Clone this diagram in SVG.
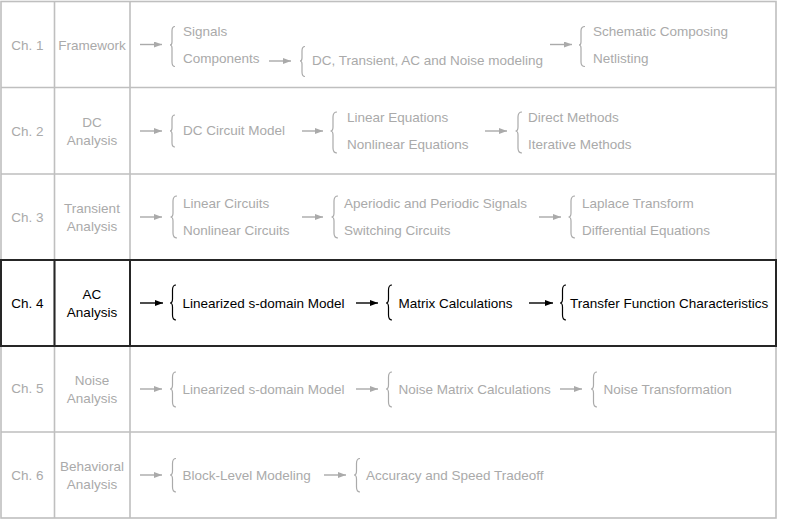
<svg xmlns="http://www.w3.org/2000/svg" width="785" height="525" viewBox="0 0 785 525">
<style>
text{font-family:"Liberation Sans",Arial,sans-serif;font-size:13.5px;fill:#aaaaaa}
.c{text-anchor:middle}
.k text,text.k{fill:#000}
.grid{stroke:#bfbfbf;stroke-width:1.6;fill:none}
.hl{stroke:#262626;stroke-width:2;fill:none}
.br{fill:none;stroke:#aaaaaa;stroke-width:1.2}
.k .br{stroke:#000}
.ar{stroke:#aaaaaa;stroke-width:1.4;marker-end:url(#hg)}
.ark{stroke:#000;stroke-width:1.4;marker-end:url(#hk)}
</style>
<defs>
<marker id="hg" viewBox="0 0 8 6" refX="8" refY="3" markerWidth="8" markerHeight="6" markerUnits="userSpaceOnUse" orient="auto"><path d="M0,0 L8,3 L0,6 z" fill="#aaaaaa"/></marker>
<marker id="hk" viewBox="0 0 8 6" refX="8" refY="3" markerWidth="8" markerHeight="6" markerUnits="userSpaceOnUse" orient="auto"><path d="M0,0 L8,3 L0,6 z" fill="#000"/></marker>
</defs>
<rect width="785" height="525" fill="#fff"/>
<g id="grid">
<rect class="grid" x="1" y="1.5" width="775" height="516.5"/>
<path class="grid" d="M54.5,1.5 V518 M130,1.5 V518 M1,87.5 H776 M1,174 H776 M1,432 H776"/>
<rect class="hl" x="1" y="260" width="775" height="86"/>
<path class="hl" d="M54.5,260 V346 M130,260 V346"/>
</g>
<g id="connectors">
<line class="ar" x1="140" y1="44.5" x2="162" y2="44.5"/>
<line class="ar" x1="269" y1="61" x2="291" y2="61"/>
<line class="ar" x1="550" y1="44.5" x2="572" y2="44.5"/>
<line class="ar" x1="140" y1="131" x2="162" y2="131"/>
<line class="ar" x1="302" y1="131" x2="323" y2="131"/>
<line class="ar" x1="485" y1="131" x2="507" y2="131"/>
<line class="ar" x1="140" y1="217" x2="162" y2="217"/>
<line class="ar" x1="302" y1="217" x2="323" y2="217"/>
<line class="ar" x1="539" y1="217" x2="561" y2="217"/>
<line class="ark" x1="140" y1="303" x2="163" y2="303"/>
<line class="ark" x1="356" y1="303" x2="378" y2="303"/>
<line class="ark" x1="529" y1="303" x2="553" y2="303"/>
<line class="ar" x1="140" y1="389" x2="162" y2="389"/>
<line class="ar" x1="356" y1="389" x2="378" y2="389"/>
<line class="ar" x1="560" y1="389" x2="582" y2="389"/>
<line class="ar" x1="140" y1="475" x2="162" y2="475"/>
<line class="ar" x1="324" y1="475" x2="346" y2="475"/>
</g>
<g id="row1">
<text class="c" x="27.5" y="50">Ch. 1</text>
<text class="c" x="92" y="50">Framework</text>
<path class="br" d="M175,26.5 Q172,26.5 172,31 L172,42 Q172,45 170,45 Q172,45 172,48 L172,62 Q172,66.5 175,66.5"/>
<text x="183" y="36">Signals</text>
<text x="183" y="63">Components</text>
<path class="br" d="M305,46.5 Q302,46.5 302,51 L302,58 Q302,61 300,61 Q302,61 302,64 L302,72 Q302,76.5 305,76.5"/>
<text x="312" y="65">DC, Transient, AC and Noise modeling</text>
<path class="br" d="M585,26.5 Q581,26.5 581,31 L581,42 Q581,45 579,45 Q581,45 581,48 L581,62 Q581,66.5 585,66.5"/>
<text x="593" y="36">Schematic Composing</text>
<text x="593" y="63">Netlisting</text>
</g>
<g id="row2">
<text class="c" x="27.5" y="136">Ch. 2</text>
<text class="c" x="92" y="127">DC</text>
<text class="c" x="92" y="145">Analysis</text>
<path class="br" d="M175,115 Q172,115 172,119 L172,128 Q172,131 170,131 Q172,131 172,134 L172,143 Q172,147 175,147"/>
<text x="183" y="135">DC Circuit Model</text>
<path class="br" d="M337,112 Q333,112 333,117 L333,127 Q333,131 330.5,131 Q333,131 333,135 L333,148 Q333,153 337,153"/>
<text x="347" y="122">Linear Equations</text>
<text x="347" y="149">Nonlinear Equations</text>
<path class="br" d="M522,112 Q518,112 518,117 L518,127 Q518,131 515.5,131 Q518,131 518,135 L518,148 Q518,153 522,153"/>
<text x="528" y="122">Direct Methods</text>
<text x="528" y="149">Iterative Methods</text>
</g>
<g id="row3">
<text class="c" x="27.5" y="221.5">Ch. 3</text>
<text class="c" x="92" y="213">Transient</text>
<text class="c" x="92" y="231">Analysis</text>
<path class="br" d="M177,196 Q173,196 173,201 L173,213 Q173,217 170.5,217 Q173,217 173,221 L173,233 Q173,238 177,238"/>
<text x="183" y="208">Linear Circuits</text>
<text x="183" y="235">Nonlinear Circuits</text>
<path class="br" d="M338,196 Q334,196 334,201 L334,213 Q334,217 331.5,217 Q334,217 334,221 L334,233 Q334,238 338,238"/>
<text x="344" y="208">Aperiodic and Periodic Signals</text>
<text x="344" y="235">Switching Circuits</text>
<path class="br" d="M575,196 Q571,196 571,201 L571,213 Q571,217 568.5,217 Q571,217 571,221 L571,233 Q571,238 575,238"/>
<text x="582" y="208">Laplace Transform</text>
<text x="582" y="235">Differential Equations</text>
</g>
<g id="row4" class="k">
<text class="c" x="27.5" y="307.5">Ch. 4</text>
<text class="c" x="92" y="299">AC</text>
<text class="c" x="92" y="316.5">Analysis</text>
<path class="br" d="M176,285 Q172.5,285 172.5,290 L172.5,299 Q172.5,303 170,303 Q172.5,303 172.5,307 L172.5,315 Q172.5,320 176,320"/>
<text x="182.5" y="308">Linearized s-domain Model</text>
<path class="br" d="M392,285 Q388.5,285 388.5,290 L388.5,299 Q388.5,303 386,303 Q388.5,303 388.5,307 L388.5,315 Q388.5,320 392,320"/>
<text x="398.5" y="308">Matrix Calculations</text>
<path class="br" d="M566,285 Q562.5,285 562.5,290 L562.5,299 Q562.5,303 560,303 Q562.5,303 562.5,307 L562.5,315 Q562.5,320 566,320"/>
<text x="570" y="308">Transfer Function Characteristics</text>
</g>
<g id="row5">
<text class="c" x="27.5" y="393">Ch. 5</text>
<text class="c" x="92" y="385">Noise</text>
<text class="c" x="92" y="402.5">Analysis</text>
<path class="br" d="M176,372 Q172.5,372 172.5,377 L172.5,385 Q172.5,389 170,389 Q172.5,389 172.5,393 L172.5,402 Q172.5,407 176,407"/>
<text x="182.5" y="393.5">Linearized s-domain Model</text>
<path class="br" d="M392,372 Q388.5,372 388.5,377 L388.5,385 Q388.5,389 386,389 Q388.5,389 388.5,393 L388.5,402 Q388.5,407 392,407"/>
<text x="398.5" y="393.5">Noise Matrix Calculations</text>
<path class="br" d="M597,372 Q593.5,372 593.5,377 L593.5,385 Q593.5,389 591,389 Q593.5,389 593.5,393 L593.5,402 Q593.5,407 597,407"/>
<text x="603.5" y="393.5">Noise Transformation</text>
</g>
<g id="row6">
<text class="c" x="27.5" y="479.5">Ch. 6</text>
<text class="c" x="92" y="471">Behavioral</text>
<text class="c" x="92" y="489">Analysis</text>
<path class="br" d="M176,458.5 Q172.5,458.5 172.5,463.5 L172.5,471 Q172.5,475 170,475 Q172.5,475 172.5,479 L172.5,487 Q172.5,492 176,492"/>
<text x="182.5" y="479.5">Block-Level Modeling</text>
<path class="br" d="M360,458.5 Q356.5,458.5 356.5,463.5 L356.5,471 Q356.5,475 354,475 Q356.5,475 356.5,479 L356.5,487 Q356.5,492 360,492"/>
<text x="366" y="479.5">Accuracy and Speed Tradeoff</text>
</g>
</svg>
